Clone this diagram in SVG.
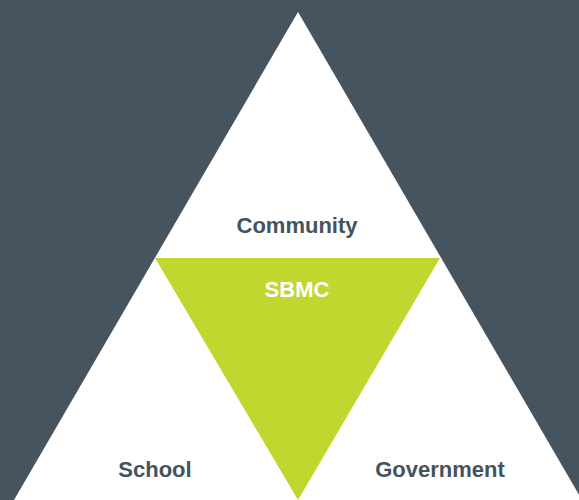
<svg xmlns="http://www.w3.org/2000/svg" width="579" height="500" viewBox="0 0 579 500">
<style>
.lbl{font-family:"Liberation Sans",Arial,sans-serif;font-weight:bold;font-size:22px;text-anchor:middle;fill:#44535e}
.w{fill:#ffffff}
</style>
<rect width="579" height="500" fill="#45545f"/>
<g id="outer"><polygon points="298,12 14,500 582,500" fill="#ffffff"/></g>
<g id="sbmc-shape"><polygon points="155,258 440,258 298,500" fill="#c1d62f"/></g>
<g id="connectors"></g>
<g id="community"><text class="lbl" x="297" y="233">Community</text></g>
<g id="sbmc"><text class="lbl w" x="297" y="297">SBMC</text></g>
<g id="school"><text class="lbl" x="155" y="477">School</text></g>
<g id="government"><text class="lbl" x="440" y="477">Government</text></g>
</svg>
